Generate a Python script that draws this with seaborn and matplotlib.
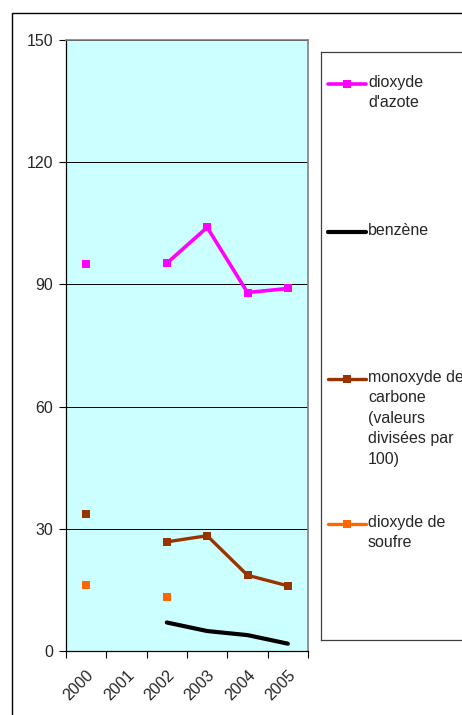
import numpy as np
import pandas as pd
import matplotlib
matplotlib.use("Agg")
import matplotlib.pyplot as plt
from matplotlib.lines import Line2D
from matplotlib.patches import Rectangle
import seaborn as sns

sns.set_style("white")
plt.rcParams['font.family'] = ['Liberation Sans', 'DejaVu Sans']

years = ["2000", "2001", "2002", "2003", "2004", "2005"]
no2 = [95.0, np.nan, 95.2, 104.0, 88.0, 89.0]
benzene = [np.nan, np.nan, 7.0, 4.9, 3.9, 1.8]
co = [33.6, np.nan, 26.8, 28.3, 18.6, 16.0]
so2 = [16.2, np.nan, 13.2, np.nan, np.nan, np.nan]

labels = ["dioxyde\nd'azote", "benzène",
          "monoxyde de\ncarbone\n(valeurs\ndivisées par\n100)", "dioxyde de\nsoufre"]
colors = ["#FF00FF", "#000000", "#993300", "#FF6600"]
markers = ["s", None, "s", "s"]
widths = [2.6, 3.0, 2.4, 2.4]
series = [no2, benzene, co, so2]

FS = 11.5
W, H = 462, 715
fig = plt.figure(figsize=(W / 100, H / 100), dpi=100)
fig.patch.set_facecolor("white")

# outer frame (clipped at right/bottom like the reference)
fig.patches.append(Rectangle((12 / W, -0.2), 2.0, (H - 13) / H + 0.2,
                             transform=fig.transFigure, fill=False,
                             edgecolor="black", linewidth=1.0))

ax = fig.add_axes([66 / W, 1 - 651 / H, 242 / W, 611 / H])
ax.set_facecolor("#CCFFFF")

xs = np.arange(len(years))
for vals, col, mk, lw in zip(series, colors, markers, widths):
    v = np.array(vals, dtype=float)
    ok = ~np.isnan(v)
    runs = []
    cur = []
    for i in range(len(v)):
        if ok[i]:
            cur.append(i)
        else:
            if cur:
                runs.append(cur)
            cur = []
    if cur:
        runs.append(cur)
    for r in runs:
        df = pd.DataFrame({"x": xs[r], "y": v[r]})
        sns.lineplot(data=df, x="x", y="y", ax=ax, color=col, linewidth=lw,
                     marker=mk, markersize=6, markeredgewidth=0,
                     estimator=None, sort=False, legend=False)

ax.set_xlim(-0.5, len(years) - 0.5)
ax.set_ylim(0, 150)
ax.set_yticks([0, 30, 60, 90, 120, 150])
ax.set_yticklabels(["0", "30", "60", "90", "120", "150"], fontsize=FS)
ax.yaxis.grid(True, color="black", linewidth=0.7)
ax.set_axisbelow(True)

ax.set_xticks(np.arange(-0.5, len(years)), minor=False)
ax.set_xticklabels([])
ax.set_xticks(xs, minor=True)
ax.set_xticklabels(years, minor=True, rotation=45, ha="right",
                   rotation_mode="anchor", fontsize=FS)
ax.tick_params(axis="x", which="major", direction="out", length=5,
               width=0.8, color="black", bottom=True)
ax.tick_params(axis="x", which="minor", length=0, pad=12, bottom=True)
ax.tick_params(axis="y", direction="out", length=5, width=0.8,
               color="black", left=True, pad=4)
ax.set_xlabel("")
ax.set_ylabel("")

for s in ["left", "bottom"]:
    ax.spines[s].set_color("black")
    ax.spines[s].set_linewidth(0.9)
for s in ["top", "right"]:
    ax.spines[s].set_color("#808080")
    ax.spines[s].set_linewidth(1.2)

# legend box
lg = fig.add_axes([321 / W, 1 - 640 / H, 1.0, (640 - 52) / H])
lg.set_xlim(321, 321 + W)
lg.set_ylim(640, 52)
lg.set_xticks([])
lg.set_yticks([])
for s in lg.spines.values():
    s.set_color("#404040")
    s.set_linewidth(0.9)
lg.patch.set_facecolor("white")

entry_y = [84, 232, 379, 524]
for lab, col, mk, lw, yy in zip(labels, colors, markers, widths, entry_y):
    lg.add_line(Line2D([328, 366], [yy, yy], color=col, linewidth=lw))
    if mk:
        lg.add_line(Line2D([347], [yy], color=col, marker=mk,
                           markersize=5.5, markeredgewidth=0))
    lg.text(368, yy - 9, lab, fontsize=FS, va="top", ha="left",
            linespacing=1.45)

fig.savefig("out.png", dpi=100)
